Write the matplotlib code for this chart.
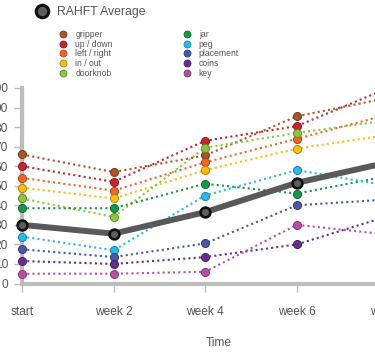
import matplotlib.pyplot as plt
import matplotlib.colors as mcolors
from matplotlib.lines import Line2D

plt.rcParams['font.family'] = ['Liberation Sans', 'DejaVu Sans']

weeks = ['start', 'week 2', 'week 4', 'week 6', 'week 8']
names = ['gripper', 'up / down', 'left / right', 'in / out', 'doorknob',
         'jar', 'peg', 'placement', 'coins', 'key']
colors = ['#a9552a', '#c1272d', '#f26526', '#fdbb13', '#8cc63f',
          '#179848', '#27b9ec', '#4b56a8', '#662d91', '#b84ea3']

gripper = [66, 57, 65.5, 85.5, 95]
up_down = [60, 52, 73, 80.5, 100]
left_right = [54, 47.5, 62, 74, 86.5]
in_out = [49, 43.5, 58, 69, 76]
doorknob = [43.5, 34, 69.5, 77, 83.5]
jar = [38.5, 38.5, 51, 46, 55]
peg = [24, 17, 45, 58, 50]
placement = [17.5, 13.5, 20.5, 40, 43]
coins = [11.5, 10, 13.5, 20, 34.5]
key = [5, 5, 6, 30, 25]
average = [30, 25.5, 36.5, 51.5, 62]

series = [gripper, up_down, left_right, in_out, doorknob,
          jar, peg, placement, coins, key]


def darker(c, f=0.7):
    r, g, b = mcolors.to_rgb(c)
    return (r * f, g * f, b * f)


W, H = 375, 356
fig = plt.figure(figsize=(W / 100, H / 100), dpi=100)
# axes runs past the right edge of the figure, as in the reference crop
ax = fig.add_axes([22 / W, (H - 283.5) / H, 4.3 * 91.6 / W, 195.5 / H])
x = list(range(len(weeks)))

for vals, c in zip(series, colors):
    ax.plot(x, vals, linestyle=(0, (1, 1.5)), lw=1.5, color=c,
            marker='o', ms=5.8, mfc=c, mec=darker(c), mew=0.7,
            clip_on=False, zorder=3)

ax.plot(x, average, color='#595959', lw=4.3, marker='o', ms=7,
        mfc='#5e5e5e', mec='#111111', mew=1.9, clip_on=False, zorder=4)

ax.set_xlim(0, 4.3)
ax.set_ylim(0, 100)
ax.set_xticks(x)
ax.set_xticklabels(weeks)
ax.set_yticks(range(0, 101, 10))

for s in ['top', 'right']:
    ax.spines[s].set_visible(False)
for s in ['left', 'bottom']:
    ax.spines[s].set_color('#bdbdbd')
    ax.spines[s].set_linewidth(3)
ax.tick_params(axis='both', colors='#bdbdbd', labelcolor='#555555',
               labelsize=8.6, width=1, length=6)
ax.tick_params(axis='y', pad=4)
ax.tick_params(axis='x', pad=10)
ax.set_xlabel('Time', fontsize=8.6, color='#555555', labelpad=14)

avg_handle = [Line2D([], [], linestyle='none', marker='o', ms=9, mfc='#5e5e5e',
                     mec='#111111', mew=2.2)]
fig.legend(avg_handle, ['RAHFT Average'], loc='center left',
           bbox_to_anchor=(35 / W, 1 - 12 / H), frameon=False,
           fontsize=8.8, handletextpad=0.6, labelcolor='#555555',
           handlelength=1.2, borderpad=0, borderaxespad=0)

handles = [Line2D([], [], linestyle='none', marker='o', ms=5, mfc=c,
                  mec=darker(c), mew=0.6) for c in colors]
for col, x0 in enumerate([58, 181.5]):
    fig.legend(handles[col * 5:col * 5 + 5], names[col * 5:col * 5 + 5],
               loc='upper left', bbox_to_anchor=(x0 / W, 1 - 30 / H),
               frameon=False, fontsize=6.2, labelcolor='#555555',
               handlelength=1.2, handletextpad=0.8, labelspacing=0.08,
               borderpad=0, borderaxespad=0)

fig.savefig('out.png', dpi=100)
